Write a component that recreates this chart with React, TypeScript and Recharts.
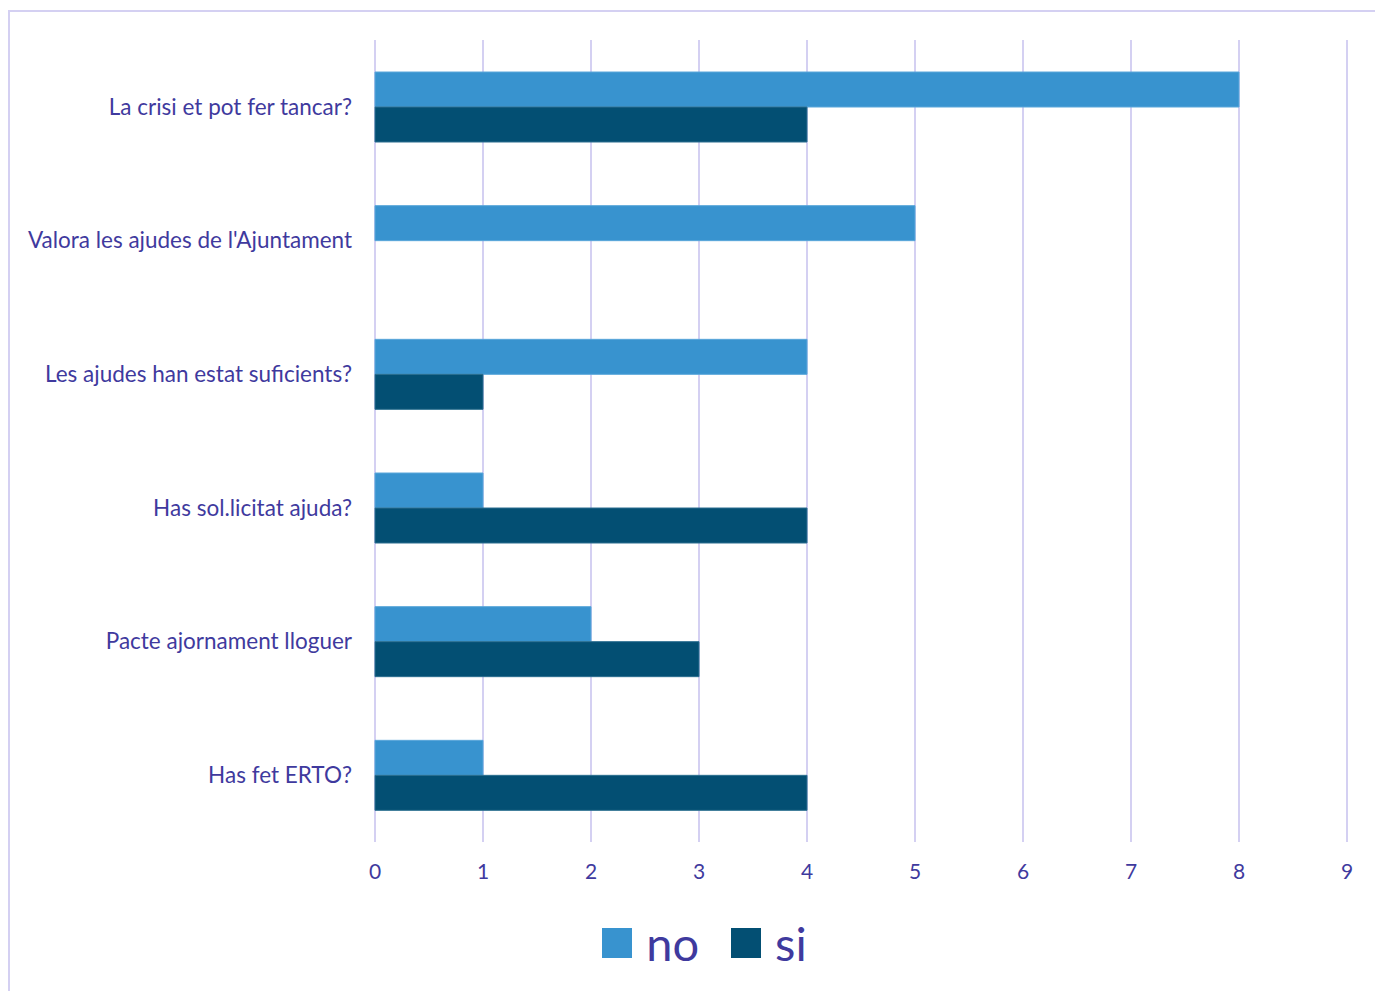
import { BarChart, Bar, XAxis, YAxis, CartesianGrid, Legend } from "recharts";

const categories = [
  "La crisi et pot fer tancar?",
  "Valora les ajudes de l'Ajuntament",
  "Les ajudes han estat suficients?",
  "Has sol.licitat ajuda?",
  "Pacte ajornament lloguer",
  "Has fet ERTO?",
];
const noValues = [8, 5, 4, 1, 2, 1];
const siValues = [4, 0, 1, 4, 3, 4];
const xTicks = [0, 1, 2, 3, 4, 5, 6, 7, 8, 9];

const data = categories.map((name, i) => ({
  name,
  no: noValues[i],
  si: siValues[i],
}));

const TEXT = "#3f3a9e";
const GRID = "#d4d0f2";
const FONT = "Lato, 'Open Sans', sans-serif";

function LegendContent(props: any) {
  const { payload } = props;
  return (
    <div
      style={{
        display: "flex",
        justifyContent: "center",
        alignItems: "center",
        fontFamily: FONT,
        height: 50,
        paddingLeft: 62,
      }}
    >
      {(payload || []).map((p: any, i: number) => (
        <div
          key={p.value}
          style={{
            display: "flex",
            alignItems: "center",
            marginRight: i === 0 ? 32 : 0,
          }}
        >
          <div
            style={{
              width: 30,
              height: 30,
              background: p.color,
              marginRight: 14,
            }}
          />
          <span style={{ fontSize: 47, color: TEXT, lineHeight: "50px" }}>
            {p.value}
          </span>
        </div>
      ))}
    </div>
  );
}

export default function App() {
  return (
    <div style={{ position: "absolute", left: 0, top: 0, width: 1375, height: 991, overflow: "hidden", background: "#fff" }}>
      <div
        style={{
          position: "absolute",
          left: 8,
          top: 10,
          width: 1400,
          height: 1000,
          border: `2px solid ${GRID}`,
          boxSizing: "border-box",
        }}
      />
      <div style={{ position: "absolute", left: 0, top: 0 }}>
        <BarChart
          width={1375}
          height={991}
          data={data}
          layout="vertical"
          margin={{ top: 40, right: 28, bottom: 69, left: 0 }}
          barGap={0}
          style={{ fontFamily: FONT }}
        >
          <CartesianGrid horizontal={false} stroke={GRID} strokeWidth={2} />
          <XAxis
            type="number"
            domain={[0, 9]}
            ticks={xTicks}
            axisLine={false}
            tickLine={false}
            tickMargin={16}
            tick={{ fill: TEXT, fontSize: 21 }}
          />
          <YAxis
            type="category"
            dataKey="name"
            width={375}
            axisLine={false}
            tickLine={false}
            tickMargin={17}
            tick={{ fill: TEXT, fontSize: 22.5 }}
          />
          <Legend
            verticalAlign="bottom"
            wrapperStyle={{ bottom: 23 }}
            content={<LegendContent />}
          />
          <Bar
            dataKey="no"
            name="no"
            fill="#3893cf"
            stroke="#5aa7da"
            strokeWidth={1}
            barSize={35}
            isAnimationActive={false}
          />
          <Bar
            dataKey="si"
            name="si"
            fill="#034f73"
            stroke="#2c6f90"
            strokeWidth={1}
            barSize={35}
            isAnimationActive={false}
          />
        </BarChart>
      </div>
    </div>
  );
}
